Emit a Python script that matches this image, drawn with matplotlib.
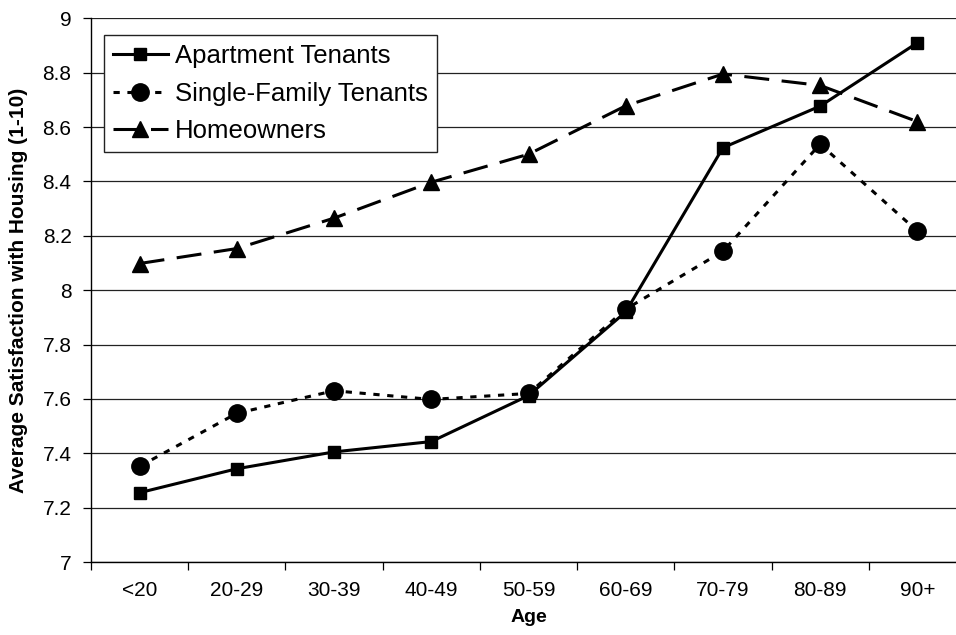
import numpy as np
import matplotlib.pyplot as plt

plt.rcParams['font.family'] = ['Liberation Sans', 'DejaVu Sans']
plt.rcParams['lines.scale_dashes'] = False

# --- data ---
ages = ['<20', '20-29', '30-39', '40-49', '50-59', '60-69', '70-79', '80-89', '90+']
apartment = [7.255, 7.343, 7.405, 7.443, 7.612, 7.92, 8.524, 8.677, 8.91]
single_family = [7.352, 7.547, 7.63, 7.598, 7.62, 7.93, 8.143, 8.537, 8.217]
homeowners = [8.098, 8.153, 8.265, 8.397, 8.50, 8.678, 8.795, 8.753, 8.62]

x = np.arange(len(ages))

fig = plt.figure(figsize=(9.56, 6.35), dpi=100)
ax = fig.add_axes([91 / 956, 1 - 562 / 635, 875 / 956, (562 - 18.3) / 635])

ax.plot(x, apartment, color='black', lw=2.2, marker='s', ms=8,
        label='Apartment Tenants', solid_joinstyle='miter')
ax.plot(x, single_family, color='black', lw=2.2, marker='o', ms=12.5,
        dashes=(4.5, 5.5), label='Single-Family Tenants')
ax.plot(x, homeowners, color='black', lw=2.2, marker='^', ms=11,
        dashes=(18, 9), label='Homeowners')

ax.set_ylim(7, 9)
ax.set_xlim(-0.5, len(ages) - 0.5)
ax.set_yticks(np.arange(7, 9.01, 0.2))
ax.set_yticklabels(['7', '7.2', '7.4', '7.6', '7.8', '8', '8.2', '8.4', '8.6', '8.8', '9'])
ax.yaxis.grid(True, color='#222222', lw=0.9)
ax.set_axisbelow(True)

# category labels centred, tick marks on the boundaries
ax.set_xticks(x)
ax.set_xticklabels(ages)
ax.set_xticks(np.arange(-0.5, len(ages), 1), minor=True)
ax.tick_params(axis='x', which='major', length=0, labelsize=15, pad=14)
ax.tick_params(axis='x', which='minor', length=6, width=0.9, direction='out')
ax.tick_params(axis='y', length=6, width=0.9, direction='out', labelsize=15, pad=8)

for side in ['top', 'right']:
    ax.spines[side].set_visible(False)
for side in ['left', 'bottom']:
    ax.spines[side].set_linewidth(1.0)

ax.set_xlabel('Age', fontsize=14, fontweight='bold', labelpad=6)
ax.set_ylabel('Average Satisfaction with Housing (1-10)', fontsize=15,
              fontweight='bold')
ax.yaxis.set_label_coords(-0.072, 0.5)

leg = ax.legend(loc='upper left', bbox_to_anchor=(104 / 956, 1 - 35 / 635),
                bbox_transform=fig.transFigure, fontsize=18.5, frameon=True,
                fancybox=False, framealpha=1, edgecolor='#222222',
                handlelength=2.14, handletextpad=0.27, labelspacing=0.53,
                borderpad=0.35, borderaxespad=0)
leg.get_frame().set_linewidth(1.0)

fig.savefig('out.png', dpi=100)
